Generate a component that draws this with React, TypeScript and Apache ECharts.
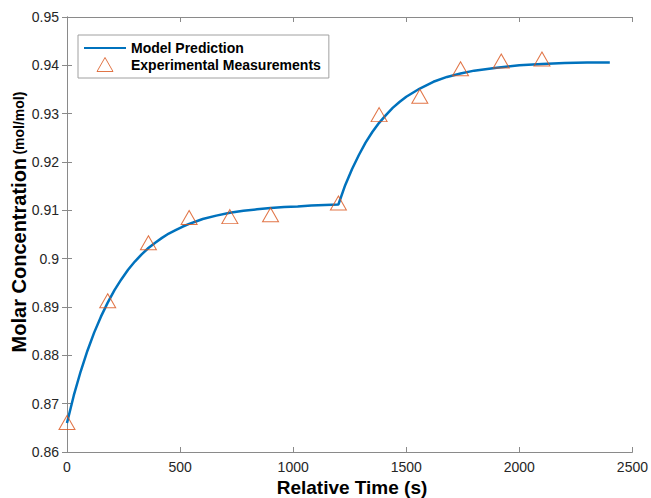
import React, { useEffect, useRef } from "react";
import * as echarts from "echarts";

// Model prediction curve (time in s, concentration in mol/mol)
const modelTime = [
  0, 30, 60, 90, 120, 150, 180, 210, 240, 270, 300, 330, 360, 390, 420, 450,
  480, 510, 540, 570, 600, 660, 720, 780, 840, 900, 960, 1020, 1080, 1140,
  1200, 1230, 1260, 1290, 1320, 1350, 1380, 1410, 1440, 1470, 1500, 1560, 1620,
  1680, 1740, 1800, 1900, 2000, 2100, 2200, 2300, 2400,
];
const modelValue = [
  0.866, 0.8717, 0.8766, 0.8809, 0.8847, 0.888, 0.8909, 0.8935, 0.8957,
  0.8977, 0.8994, 0.9009, 0.9022, 0.9033, 0.9043, 0.9052, 0.9059, 0.9066,
  0.9072, 0.9077, 0.9082, 0.9089, 0.9095, 0.9099, 0.9102, 0.9105, 0.9107,
  0.9108, 0.911, 0.9111, 0.9112, 0.9152, 0.9185, 0.9214, 0.924, 0.9262,
  0.9281, 0.9297, 0.9312, 0.9324, 0.9335, 0.9352, 0.9366, 0.9376, 0.9383,
  0.9389, 0.9395, 0.94, 0.9403, 0.9405, 0.9406, 0.9406,
];

// Experimental measurements
const expTime = [0, 180, 360, 540, 720, 900, 1200, 1380, 1560, 1740, 1920, 2100];
const expValue = [
  0.8661, 0.8913, 0.9033, 0.9085, 0.9087, 0.9091, 0.9115, 0.9298, 0.9336,
  0.9393, 0.9409, 0.9413,
];

const xTicks = [0, 500, 1000, 1500, 2000, 2500];
const yTicks = [0.86, 0.87, 0.88, 0.89, 0.9, 0.91, 0.92, 0.93, 0.94, 0.95];

const FONT = "'Liberation Sans', Arial, Helvetica, sans-serif";
const BLUE = "#0072BD";
const ORANGE = "#D95319";
const AXIS = "#8a8a8a";
const LABEL = "#262626";
const CLEAR = "rgba(0,0,0,0)";
const TRIANGLE_ICON = "path://M8,0 L16,14 L0,14 Z";

export default function App() {
  const ref = useRef<HTMLDivElement>(null);

  useEffect(() => {
    if (!ref.current) return;
    const chart = echarts.init(ref.current, undefined, { renderer: "svg" });

    const xMin = xTicks[0];
    const xMax = xTicks[xTicks.length - 1];
    const xStep = xTicks[1] - xTicks[0];
    const yMin = yTicks[0];
    const yMax = yTicks[yTicks.length - 1];
    const yStep = 0.01;

    const tickStyle = {
      show: true,
      inside: true,
      length: 5,
      lineStyle: { color: AXIS, width: 1 },
    };
    const lineStyle = { show: true, lineStyle: { color: AXIS, width: 1 } };

    chart.setOption({
      animation: false,
      backgroundColor: "#ffffff",
      grid: { left: 67, right: 16, top: 17, bottom: 46, containLabel: false },
      legend: {
        orient: "vertical",
        left: 78,
        top: 35,
        padding: [6, 8, 6, 5],
        itemWidth: 42,
        itemHeight: 14,
        itemGap: 2,
        symbolKeepAspect: true,
        borderColor: "#a0a0a0",
        borderWidth: 1,
        backgroundColor: "#ffffff",
        textStyle: {
          fontFamily: FONT,
          fontWeight: "bold",
          fontSize: 14,
          color: "#000",
        },
        data: [
          {
            name: "Model Prediction",
            // line only, no marker in the key
            itemStyle: { color: CLEAR, borderColor: CLEAR, borderWidth: 0 },
          },
          {
            name: "Experimental Measurements",
            icon: TRIANGLE_ICON,
            itemStyle: { color: CLEAR, borderColor: ORANGE, borderWidth: 1 },
          },
        ],
      },
      xAxis: [
        {
          type: "value",
          position: "bottom",
          min: xMin,
          max: xMax,
          interval: xStep,
          axisLine: lineStyle,
          axisTick: tickStyle,
          splitLine: { show: false },
          axisLabel: {
            margin: 8,
            fontFamily: FONT,
            fontSize: 14,
            color: LABEL,
            formatter: (v: number) => String(v),
          },
        },
        {
          type: "value",
          position: "top",
          min: xMin,
          max: xMax,
          interval: xStep,
          axisLine: lineStyle,
          axisTick: tickStyle,
          splitLine: { show: false },
          axisLabel: { show: false },
        },
      ],
      yAxis: [
        {
          type: "value",
          position: "left",
          min: yMin,
          max: yMax,
          interval: yStep,
          axisLine: lineStyle,
          axisTick: tickStyle,
          splitLine: { show: false },
          axisLabel: {
            margin: 8,
            fontFamily: FONT,
            fontSize: 14,
            color: LABEL,
            formatter: (v: number) => String(+v.toFixed(2)),
          },
        },
        {
          type: "value",
          position: "right",
          min: yMin,
          max: yMax,
          interval: yStep,
          axisLine: lineStyle,
          axisTick: tickStyle,
          splitLine: { show: false },
          axisLabel: { show: false },
        },
      ],
      series: [
        {
          name: "Model Prediction",
          type: "line",
          xAxisIndex: 0,
          yAxisIndex: 0,
          data: modelTime.map((t, i) => [t, modelValue[i]]),
          symbol: "none",
          smooth: false,
          lineStyle: { color: BLUE, width: 2.5 },
          itemStyle: { color: BLUE },
          z: 2,
        },
        {
          name: "Experimental Measurements",
          type: "scatter",
          xAxisIndex: 0,
          yAxisIndex: 0,
          data: expTime.map((t, i) => [t, expValue[i]]),
          symbol: "triangle",
          symbolSize: [16, 14],
          itemStyle: {
            color: CLEAR,
            borderColor: ORANGE,
            borderWidth: 1,
          },
          z: 3,
        },
      ],
      graphic: [
        {
          type: "text",
          x: 352,
          y: 487,
          style: {
            text: "Relative Time (s)",
            font: `bold 19px ${FONT}`,
            fill: "#000",
            align: "center",
            verticalAlign: "middle",
          },
        },
        {
          type: "text",
          x: 19,
          y: 222,
          rotation: Math.PI / 2,
          style: {
            text: "{a|Molar Concentration} {b|(mol/mol)}",
            align: "center",
            verticalAlign: "middle",
            rich: {
              a: {
                fontFamily: FONT,
                fontWeight: "bold",
                fontSize: 20,
                fill: "#000",
                color: "#000",
              },
              b: {
                fontFamily: FONT,
                fontWeight: "bold",
                fontSize: 14,
                fill: "#000",
                color: "#000",
              },
            },
          },
        },
      ],
    });

    return () => chart.dispose();
  }, []);

  return (
    <div
      ref={ref}
      style={{ position: "fixed", left: 0, top: 0, width: 651, height: 498 }}
    />
  );
}
